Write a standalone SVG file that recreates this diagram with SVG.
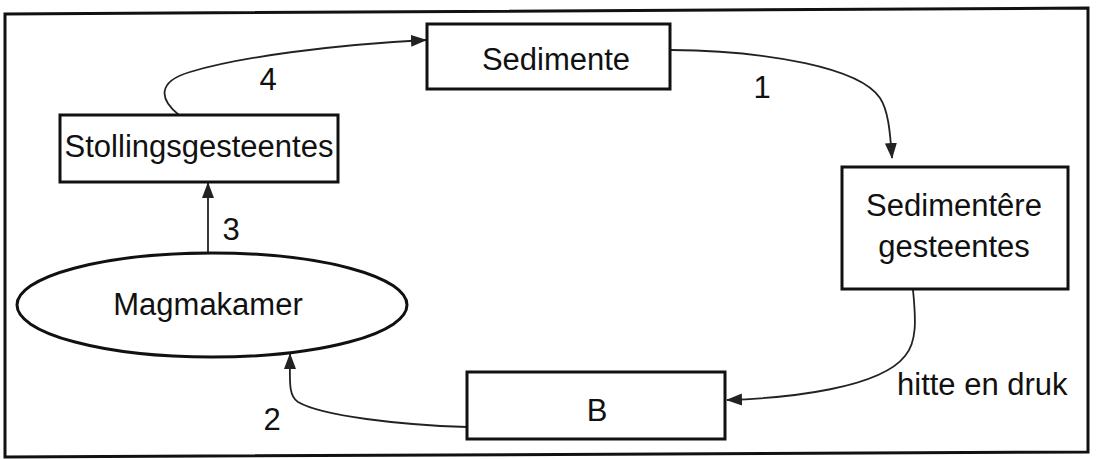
<svg xmlns="http://www.w3.org/2000/svg" width="1097" height="459" viewBox="0 0 1097 459">
  <style>
    .box { fill: #fff; stroke: #111; stroke-width: 3; }
    .frame { fill: #fff; stroke: #111; stroke-width: 3; }
    .link { fill: none; stroke: #222; stroke-width: 1.8; }
    .t { font-family: "Liberation Sans", Arial, sans-serif; font-size: 31px; fill: #111; }
    .mid { text-anchor: middle; }
  </style>
  <defs>
    <marker id="arrow" markerUnits="userSpaceOnUse" markerWidth="16" markerHeight="14" refX="15" refY="7" orient="auto">
      <path d="M0,1 L16,7 L0,13 Z" fill="#222"/>
    </marker>
  </defs>

  <!-- outer frame -->
  <polygon class="frame" points="5,14 1088,8 1088,452 5,457"/>

  <!-- connectors -->
  <g id="connectors">
    <path class="link" marker-end="url(#arrow)" d="M671,50 C770,51 860,68 880,98 C888,110 890,130 892,158"/>
    <path class="link" marker-end="url(#arrow)" d="M913,290 C916,320 917,342 905,356 C880,388 790,398 727,400"/>
    <path class="link" marker-end="url(#arrow)" d="M467,427 C400,425 322,416 298,402 C288,396 290,380 290,354"/>
    <path class="link" marker-end="url(#arrow)" d="M208,253 L208,183"/>
    <path class="link" marker-end="url(#arrow)" d="M179,115 C160,100 156,82 190,72 C240,57 330,45 426,40"/>
    <text class="t" x="268" y="90" text-anchor="middle">4</text>
    <text class="t" x="762" y="98" text-anchor="middle">1</text>
    <text class="t" x="231" y="240" text-anchor="middle">3</text>
    <text class="t" x="272" y="430" text-anchor="middle">2</text>
    <text class="t" x="897" y="395">hitte en druk</text>
  </g>

  <g id="sedimente">
    <rect class="box" x="427" y="24" width="243" height="65"/>
    <text class="t mid" x="556" y="70">Sedimente</text>
  </g>

  <g id="stollingsgesteentes">
    <rect class="box" x="60" y="115" width="278" height="67"/>
    <text class="t mid" x="199" y="157">Stollingsgesteentes</text>
  </g>

  <g id="sedimentere-gesteentes">
    <rect class="box" x="842" y="167" width="226" height="122"/>
    <text class="t mid" x="954" y="216">Sedimentêre</text>
    <text class="t mid" x="954" y="257">gesteentes</text>
  </g>

  <g id="magmakamer">
    <ellipse class="box" cx="212" cy="305" rx="195" ry="52"/>
    <text class="t mid" x="208" y="315">Magmakamer</text>
  </g>

  <g id="b">
    <rect class="box" x="467" y="372" width="258" height="67"/>
    <text class="t mid" x="597" y="421">B</text>
  </g>
</svg>
